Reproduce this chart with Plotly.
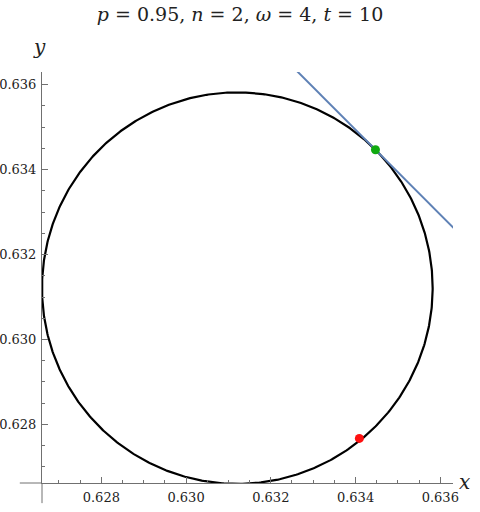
import numpy as np
import plotly.graph_objects as go

# Parameters / values
title_text = "<i>p</i> = 0.95, <i>n</i> = 2, <i>ω</i> = 4, <i>t</i> = 10"
center_x, center_y = 0.63121, 0.63121
radius = 0.00461
green_pt = [0.63447, 0.63447]
red_pt = [0.63409, 0.62767]
tangent_slope = -1.0
x_range = [0.62660, 0.63630]
y_range = [0.62662, 0.63630]
tick_vals = [0.628, 0.630, 0.632, 0.634, 0.636]
tick_text = ["0.628", "0.630", "0.632", "0.634", "0.636"]

theta = np.linspace(0, 2 * np.pi, 721)
circ_x = center_x + radius * np.cos(theta)
circ_y = center_y + radius * np.sin(theta)

tan_x = [green_pt[0] - 0.01, green_pt[0] + 0.01]
tan_y = [green_pt[1] + tangent_slope * (tx - green_pt[0]) for tx in tan_x]

font_family = "DejaVu Serif"
axis_color = "#707070"

fig = go.Figure()
fig.add_trace(go.Scatter(x=circ_x, y=circ_y, mode="lines",
                         line=dict(color="black", width=2.2), hoverinfo="skip"))
fig.add_trace(go.Scatter(x=tan_x, y=tan_y, mode="lines",
                         line=dict(color="#5E81B5", width=2), hoverinfo="skip"))
fig.add_trace(go.Scatter(x=[green_pt[0]], y=[green_pt[1]], mode="markers",
                         marker=dict(color="#10AA10", size=9)))
fig.add_trace(go.Scatter(x=[red_pt[0]], y=[red_pt[1]], mode="markers",
                         marker=dict(color="#FF1010", size=9)))

axis_common = dict(
    showgrid=False, zeroline=False, showline=True, linecolor=axis_color, linewidth=1,
    ticks="inside", ticklen=6, tickcolor=axis_color, tickwidth=1,
    tickvals=tick_vals, ticktext=tick_text, automargin=False,
    tickfont=dict(family=font_family, size=13, color="#222"),
    minor=dict(dtick=0.0005, tick0=0.628, ticks="inside", ticklen=3,
               tickcolor=axis_color, tickwidth=1),
)
fig.update_xaxes(range=x_range, ticklabelstandoff=2, **axis_common)
fig.update_yaxes(range=y_range, ticklabelstandoff=2, **axis_common)

fig.update_layout(
    width=480, height=512,
    margin=dict(l=42, r=27, t=72, b=29, pad=0),
    plot_bgcolor="white", paper_bgcolor="white",
    showlegend=False,
    title=dict(text=title_text, x=0.5, xanchor="center", y=1 - 14 / 512,
               yanchor="middle", font=dict(family=font_family, size=19, color="#222")),
    shapes=[
        dict(type="line", xref="paper", yref="paper", x0=-0.054, x1=0.0, y0=0, y1=0,
             line=dict(color=axis_color, width=1)),
        dict(type="line", xref="paper", yref="paper", x0=0, x1=0, y0=-0.049, y1=0.0,
             line=dict(color=axis_color, width=1)),
    ],
    annotations=[
        dict(text="<i>x</i>", xref="paper", yref="paper", x=1.029, y=0.003,
             xanchor="center", yanchor="middle", showarrow=False,
             font=dict(family=font_family, size=20, color="#222")),
        dict(text="<i>y</i>", xref="paper", yref="paper", x=-0.005, y=1.061,
             xanchor="center", yanchor="middle", showarrow=False,
             font=dict(family=font_family, size=20, color="#222")),
    ],
)

fig.write_html("out.html", config={"displayModeBar": False},
               post_script="document.body.style.margin='0';")
